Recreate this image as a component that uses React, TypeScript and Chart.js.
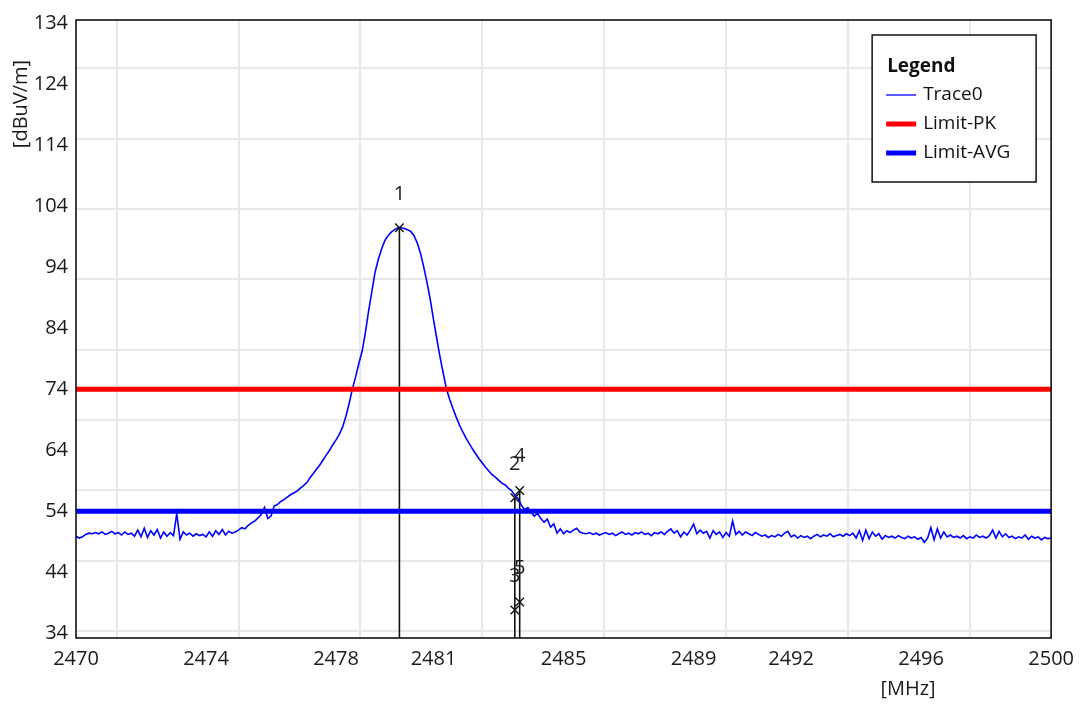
import React, { useEffect, useRef } from "react";
import { Chart, registerables } from "chart.js";

Chart.register(...registerables);

// Sweep definition (spectrum analyser points every 0.1 MHz)
const SWEEP_START_MHZ = 2470;
const SWEEP_STEP_MHZ = 0.1;

// Trace0 levels [dBuV/m], one row per MHz (2470.0 ... 2500.0)
const traceLevels: number[] = [
  49.9, 49.6, 49.8, 50.2, 50.4, 50.3, 50.5, 50.3, 50.6, 50.2,
  50.4, 50.7, 50.3, 50.5, 50.1, 50.6, 50.2, 50.4, 49.9, 50.9,
  49.8, 51.2, 49.7, 50.8, 50.1, 51.0, 49.6, 50.6, 49.9, 50.5,
  50.0, 53.6, 49.4, 50.6, 50.1, 50.4, 49.9, 50.3, 50.0, 50.2,
  49.8, 50.6, 49.9, 50.8, 50.2, 51.0, 50.1, 50.7, 50.4, 50.6,
  50.9, 51.3, 51.1, 51.7, 52.1, 52.4, 52.9, 53.5, 54.6, 52.8,
  53.2, 54.9, 55.1, 55.6, 55.9, 56.3, 56.7, 57.0, 57.3, 57.8,
  58.2, 58.7, 59.5, 60.2, 60.9, 61.6, 62.4, 63.2, 64.0, 64.9,
  65.7, 66.6, 67.8, 69.5, 71.6, 74.0, 76.0, 78.2, 80.2, 83.2,
  86.8, 90.0, 93.2, 95.3, 97.0, 98.4, 99.2, 99.8, 100.2, 100.5,
  100.5, 100.4, 100.2, 99.9, 99.2, 98.0, 96.3, 94.0, 91.5, 88.7,
  85.4, 82.3, 79.3, 76.6, 74.0, 72.3, 70.8, 69.4, 68.1, 67.0,
  66.0, 65.1, 64.2, 63.4, 62.6, 61.9, 61.2, 60.6, 60.0, 59.6,
  59.1, 58.6, 58.3, 57.8, 57.4, 56.6, 56.1, 55.0, 54.3, 54.6,
  53.8, 53.2, 53.6, 52.8, 52.2, 52.7, 51.4, 51.9, 50.4, 51.1,
  50.3, 50.8, 50.5, 50.9, 51.2, 50.6, 50.4, 50.3, 50.5, 50.2,
  50.4, 50.1, 50.3, 50.5, 50.2, 50.4, 50.0, 50.3, 50.6, 50.2,
  50.4, 50.1, 50.5, 50.3, 50.6, 50.2, 50.4, 50.0, 50.5, 50.3,
  50.6, 50.2, 50.7, 51.1, 50.4, 50.8, 49.8, 50.6, 50.1, 50.9,
  51.9, 50.3, 50.9, 50.4, 50.7, 49.6, 50.8, 50.2, 50.6, 49.7,
  50.5, 49.9, 52.4, 50.2, 50.7, 50.1, 50.6, 50.3, 50.0, 50.5,
  50.2, 49.9, 50.1, 49.7, 50.0, 49.8, 50.2, 49.9, 50.4, 50.7,
  49.8, 50.1, 49.6, 50.0, 49.7, 49.9, 49.5, 49.9, 50.2, 49.8,
  50.1, 49.9, 50.3, 49.8, 50.0, 50.2, 49.9, 50.3, 50.0, 50.4,
  49.6, 50.8, 49.2, 50.9, 49.5, 50.6, 49.9, 50.3, 49.4, 50.0,
  49.7, 49.9, 49.6, 50.0, 49.7, 49.5, 49.9, 49.6, 49.8, 49.4,
  49.7, 48.9, 49.6, 51.3, 49.3, 51.1, 49.6, 50.6, 49.8, 50.1,
  49.7, 49.9, 49.6, 50.0, 49.5, 49.8, 49.6, 50.1, 49.7, 49.9,
  49.6, 50.0, 50.9, 49.6, 50.7, 49.8, 50.3, 49.7, 49.9, 49.5,
  49.8, 49.6, 50.1, 49.4, 49.9, 49.6, 49.8, 49.3, 49.7, 49.5,
  49.6,
];

// Limit lines
const limitPkLevel = 74;
const limitAvgLevel = 54;

// Markers
const markerIds = ["1", "2", "3", "4", "5"];
const markerFreqs = [2479.95, 2483.5, 2483.5, 2483.65, 2483.65];
const markerLevels = [100.5, 56.2, 37.8, 57.4, 39.1];

// Axis tick labels and grid positions
const xTickLabels = [2470, 2474, 2478, 2481, 2485, 2489, 2492, 2496, 2500];
const yTickLabels = [34, 44, 54, 64, 74, 84, 94, 104, 114, 124, 134];
const xGridValues = [2471.25, 2475, 2478.75, 2482.5, 2486.25, 2490, 2493.75, 2497.5];
const yGridValues = [126.67, 115.13, 103.59, 92.05, 80.51, 68.97, 57.43, 45.89, 34.35];

const X_MIN = 2470;
const X_MAX = 2500;
const Y_MIN = 33.2;
const Y_MAX = 134.6;

const FONT = "'Open Sans', 'Noto Sans', sans-serif";
const TEXT = "#1a1a1a";

const framePlugin = {
  id: "frame",
  afterDraw(chart: any) {
    const { ctx, chartArea: a } = chart;
    ctx.save();
    ctx.strokeStyle = "#111";
    ctx.lineWidth = 1.6;
    ctx.strokeRect(a.left, a.top, a.right - a.left, a.bottom - a.top);
    ctx.restore();
  },
};

const markerLabelPlugin = {
  id: "markerLabels",
  afterDatasetsDraw(chart: any) {
    const { ctx } = chart;
    const xs = chart.scales.x;
    const ys = chart.scales.y;
    ctx.save();
    ctx.font = `20px ${FONT}`;
    ctx.fillStyle = TEXT;
    ctx.textAlign = "center";
    ctx.textBaseline = "middle";
    markerIds.forEach((id, i) => {
      const px = xs.getPixelForValue(markerFreqs[i]);
      const py = ys.getPixelForValue(markerLevels[i]);
      ctx.fillText(id, px, py - 34);
    });
    ctx.restore();
  },
};

const legendPlugin = {
  id: "legendBox",
  afterDraw(chart: any) {
    const { ctx, chartArea: a } = chart;
    const left = a.right - 179;
    const top = a.top + 15;
    const w = 164;
    const h = 147;
    ctx.save();
    ctx.fillStyle = "#ffffff";
    ctx.fillRect(left, top, w, h);
    ctx.strokeStyle = "#111";
    ctx.lineWidth = 1.5;
    ctx.strokeRect(left, top, w, h);
    ctx.fillStyle = "#111";
    ctx.textBaseline = "middle";
    ctx.textAlign = "left";
    ctx.font = `bold 19px ${FONT}`;
    ctx.fillText("Legend", left + 15, top + 32);
    ctx.font = `19px ${FONT}`;
    const items = chart.data.datasets.filter((d: any) => d.inLegend);
    const rowY = [60, 89, 118];
    items.forEach((d: any, i: number) => {
      const y = top + rowY[i];
      ctx.strokeStyle = d.borderColor;
      ctx.lineWidth = d.legendWidth;
      ctx.beginPath();
      ctx.moveTo(left + 14, y);
      ctx.lineTo(left + 44, y);
      ctx.stroke();
      ctx.fillStyle = "#111";
      ctx.fillText(d.label, left + 51, y);
    });
    ctx.restore();
  },
};

const axisTitlePlugin = {
  id: "axisTitles",
  afterDraw(chart: any) {
    const { ctx } = chart;
    ctx.save();
    ctx.font = `20px ${FONT}`;
    ctx.fillStyle = TEXT;
    ctx.textAlign = "center";
    ctx.textBaseline = "middle";
    ctx.fillText("[MHz]", 908, 689);
    ctx.translate(21, 104);
    ctx.rotate(-Math.PI / 2);
    ctx.fillText("[dBuV/m]", 0, 0);
    ctx.restore();
  },
};

export default function App() {
  const canvasRef = useRef<HTMLCanvasElement | null>(null);

  useEffect(() => {
    if (!canvasRef.current) return;

    const traceData = traceLevels.map((y, i) => ({
      x: SWEEP_START_MHZ + i * SWEEP_STEP_MHZ,
      y,
    }));
    const pkData = [
      { x: X_MIN, y: limitPkLevel },
      { x: X_MAX, y: limitPkLevel },
    ];
    const avgData = [
      { x: X_MIN, y: limitAvgLevel },
      { x: X_MAX, y: limitAvgLevel },
    ];
    const markerPoints = markerFreqs.map((x, i) => ({ x, y: markerLevels[i] }));
    const markerLines: any[] = [];
    markerFreqs.forEach((x, i) => {
      markerLines.push({ x, y: markerLevels[i] });
      markerLines.push({ x, y: Y_MIN });
      markerLines.push({ x, y: null });
    });

    const chart = new Chart(canvasRef.current, {
      type: "line",
      data: {
        datasets: [
          {
            label: "Markers",
            data: markerPoints,
            showLine: false,
            pointStyle: "crossRot",
            pointRadius: 6,
            pointBorderColor: "#111",
            pointBorderWidth: 1.4,
            borderColor: "#111",
            order: 0,
            xAxisID: "x",
            yAxisID: "y",
          } as any,
          {
            label: "Trace0",
            data: traceData,
            borderColor: "#0000ff",
            borderWidth: 1.6,
            pointRadius: 0,
            tension: 0,
            order: 2,
            inLegend: true,
            legendWidth: 1.3,
            xAxisID: "x",
            yAxisID: "y",
          } as any,
          {
            label: "Limit-PK",
            data: pkData,
            borderColor: "#ff0000",
            borderWidth: 5,
            pointRadius: 0,
            order: 1,
            inLegend: true,
            legendWidth: 5,
            xAxisID: "x",
            yAxisID: "y",
          } as any,
          {
            label: "Limit-AVG",
            data: avgData,
            borderColor: "#0000ff",
            borderWidth: 5,
            pointRadius: 0,
            order: 1,
            inLegend: true,
            legendWidth: 5,
            xAxisID: "x",
            yAxisID: "y",
          } as any,
          {
            label: "MarkerLines",
            data: markerLines,
            borderColor: "#111",
            borderWidth: 1.6,
            pointRadius: 0,
            spanGaps: false,
            order: 3,
            xAxisID: "x",
            yAxisID: "y",
          } as any,
        ],
      },
      options: {
        animation: false,
        responsive: false,
        parsing: true,
        layout: { padding: { top: 13, right: 31, left: 0, bottom: 0 } },
        plugins: {
          legend: { display: false },
          tooltip: { enabled: false },
          title: { display: false },
        },
        scales: {
          x: {
            type: "linear",
            position: "bottom",
            min: X_MIN,
            max: X_MAX,
            afterBuildTicks: (s: any) => {
              s.ticks = xTickLabels.map((v) => ({ value: v }));
            },
            afterFit: (s: any) => {
              s.height = 66;
            },
            grid: { display: false, drawTicks: false },
            border: { display: false },
            ticks: {
              autoSkip: false,
              maxRotation: 0,
              minRotation: 0,
              padding: 9,
              color: TEXT,
              font: { family: FONT, size: 20 },
              callback: (v: any) => String(v),
            },
          },
          xg: {
            type: "linear",
            position: "bottom",
            min: X_MIN,
            max: X_MAX,
            afterBuildTicks: (s: any) => {
              s.ticks = xGridValues.map((v) => ({ value: v }));
            },
            afterFit: (s: any) => {
              s.height = 0;
            },
            grid: { color: "#e8e8e8", lineWidth: 2, drawTicks: false },
            border: { display: false },
            ticks: { display: false },
          },
          y: {
            type: "linear",
            position: "left",
            min: Y_MIN,
            max: Y_MAX,
            afterBuildTicks: (s: any) => {
              s.ticks = yTickLabels.map((v) => ({ value: v }));
            },
            afterFit: (s: any) => {
              s.width = 76;
            },
            grid: { display: false, drawTicks: false },
            border: { display: false },
            ticks: {
              autoSkip: false,
              padding: 8,
              color: TEXT,
              font: { family: FONT, size: 20 },
              callback: (v: any) => String(v),
            },
          },
          yg: {
            type: "linear",
            position: "left",
            min: Y_MIN,
            max: Y_MAX,
            afterBuildTicks: (s: any) => {
              s.ticks = yGridValues.map((v) => ({ value: v }));
            },
            afterFit: (s: any) => {
              s.width = 0;
            },
            grid: { color: "#e8e8e8", lineWidth: 2, drawTicks: false },
            border: { display: false },
            ticks: { display: false },
          },
        } as any,
      },
      plugins: [framePlugin, markerLabelPlugin, legendPlugin, axisTitlePlugin],
    });

    return () => {
      chart.destroy();
    };
  }, []);

  return (
    <div
      style={{
        position: "absolute",
        left: 0,
        top: 0,
        width: 1083,
        height: 704,
        background: "#ffffff",
      }}
    >
      <canvas
        ref={canvasRef}
        width={1083}
        height={704}
        style={{ display: "block", width: 1083, height: 704 }}
      />
    </div>
  );
}
